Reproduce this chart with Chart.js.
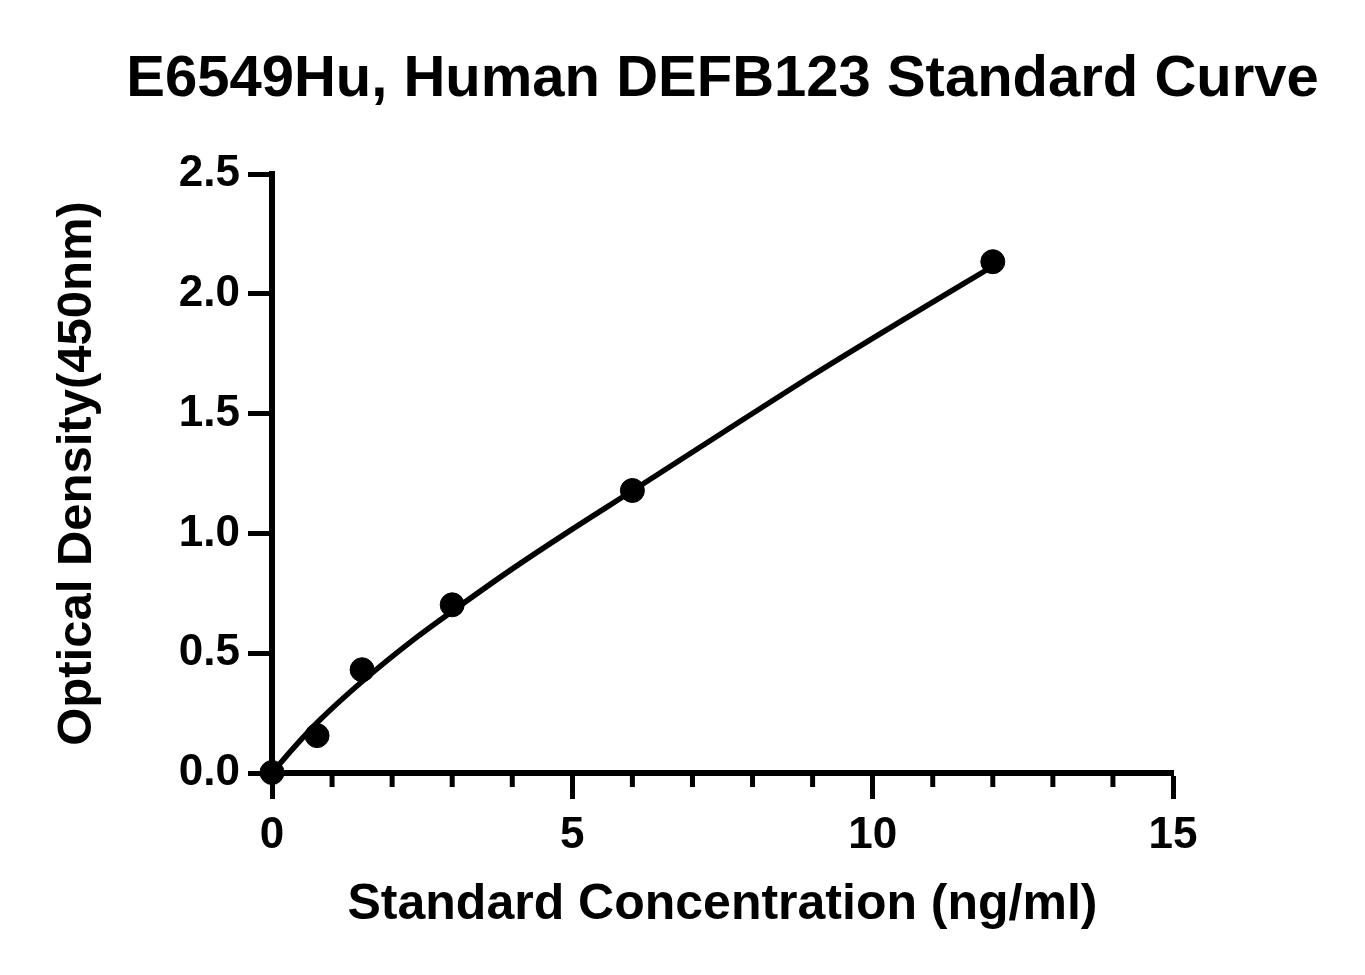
<!DOCTYPE html>
<html>
<head>
<meta charset="utf-8">
<script src="https://cdn.jsdelivr.net/npm/chart.js@4"></script>
<style>
  html, body { margin: 0; padding: 0; background: #fff; }
  canvas { display: block; }
</style>
</head>
<body>
<canvas id="c" width="1365" height="975"></canvas>
<script>
// ---- data ----
const concentrations = [0, 0.75, 1.5, 3, 6, 12];          // ng/ml
const odValues = [0.002, 0.156, 0.431, 0.702, 1.179, 2.134]; // OD 450nm
// fitted standard curve
const curveX = [0, 0.36, 0.8, 1.5, 2.4, 3, 4, 5, 6, 7.5, 9, 10.5, 12];
const curveY = [0, 0.105, 0.222, 0.382, 0.565, 0.675, 0.852, 1.018, 1.178, 1.42, 1.66, 1.89, 2.115];
const xTicks = [0, 5, 10, 15];
const xMinorTicks = [1, 2, 3, 4, 6, 7, 8, 9, 11, 12, 13, 14];
const yTicks = [0, 0.5, 1.0, 1.5, 2.0, 2.5];

const titleText = 'E6549Hu, Human DEFB123 Standard Curve';
const xTitle = 'Standard Concentration (ng/ml)';
const yTitle = 'Optical Density(450nm)';

const FAMILY = '"Liberation Sans", Arial, Helvetica, sans-serif';

const minorTicks = {
  id: 'minorTicks',
  beforeDatasetsDraw(chart) {
    const xs = chart.scales.x;
    const c = chart.ctx;
    c.save();
    c.strokeStyle = '#000';
    c.lineWidth = 5;
    c.lineCap = 'butt';
    xMinorTicks.forEach(v => {
      const px = xs.getPixelForValue(v);
      c.beginPath();
      c.moveTo(px, xs.top);
      c.lineTo(px, xs.top + 14);
      c.stroke();
    });
    c.restore();
  }
};

const centeredTitle = {
  id: 'centeredTitle',
  afterDraw(chart) {
    const a = chart.chartArea;
    const c = chart.ctx;
    c.save();
    c.fillStyle = '#000';
    c.font = 'bold 58px ' + FAMILY;
    c.textAlign = 'center';
    c.textBaseline = 'alphabetic';
    c.fillText(titleText, (a.left + a.right) / 2, 96);
    c.restore();
  }
};

new Chart(document.getElementById('c'), {
  type: 'scatter',
  data: {
    datasets: [
      {
        label: 'Fit',
        type: 'line',
        data: curveX.map((x, i) => ({ x, y: curveY[i] })),
        borderColor: '#000',
        borderWidth: 5.5,
        pointRadius: 0,
        fill: false,
        cubicInterpolationMode: 'monotone',
        clip: false,
        order: 2
      },
      {
        label: 'Standards',
        data: concentrations.map((x, i) => ({ x, y: odValues[i] })),
        backgroundColor: '#000',
        borderColor: '#000',
        pointRadius: 12,
        pointHoverRadius: 12,
        clip: false,
        order: 1
      }
    ]
  },
  options: {
    responsive: false,
    animation: false,
    devicePixelRatio: 1,
    layout: { padding: { left: 0, right: 192, top: 174, bottom: 0 } },
    plugins: {
      legend: { display: false },
      tooltip: { enabled: false },
      title: { display: false }
    },
    scales: {
      x: {
        type: 'linear',
        min: 0,
        max: 15,
        afterBuildTicks: s => { s.ticks = xTicks.map(v => ({ value: v })); },
        ticks: {
          color: '#000',
          font: { family: FAMILY, weight: 'bold', size: 44 },
          padding: 10,
          maxRotation: 0
        },
        grid: { drawOnChartArea: false, tickLength: 26, tickWidth: 5, tickColor: '#000' },
        border: { color: '#000', width: 6 },
        title: {
          display: true,
          text: xTitle,
          color: '#000',
          font: { family: FAMILY, weight: 'bold', size: 50, lineHeight: 1.2 },
          padding: { top: 0, bottom: 40 }
        },
        afterFit: s => { s.height = 975 - 773; }
      },
      y: {
        type: 'linear',
        min: 0,
        max: 2.5,
        afterBuildTicks: s => { s.ticks = yTicks.map(v => ({ value: v })); },
        ticks: {
          color: '#000',
          font: { family: FAMILY, weight: 'bold', size: 44 },
          padding: 8,
          callback: v => Number(v).toFixed(1)
        },
        grid: { drawOnChartArea: false, tickLength: 24, tickWidth: 5, tickColor: '#000' },
        border: { color: '#000', width: 6 },
        title: {
          display: true,
          text: yTitle,
          color: '#000',
          font: { family: FAMILY, weight: 'bold', size: 49, lineHeight: 1.2 },
          padding: { top: 48, bottom: 0 }
        },
        afterFit: s => { s.width = 272; }
      }
    }
  },
  plugins: [minorTicks, centeredTitle]
});
</script>
</body>
</html>
